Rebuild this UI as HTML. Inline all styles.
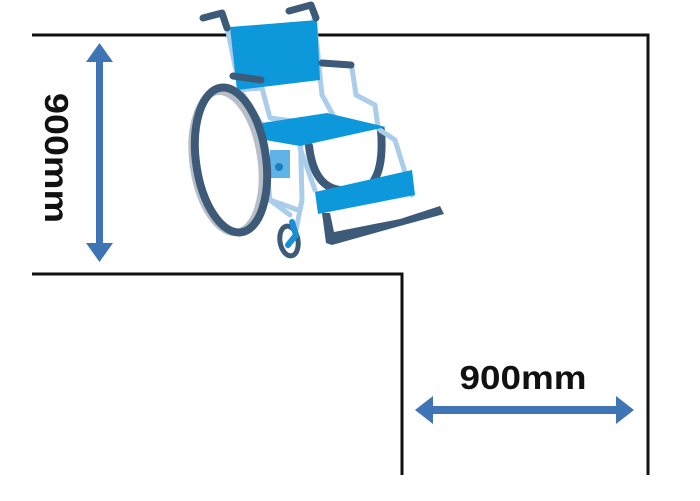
<!DOCTYPE html>
<html><head><meta charset="utf-8"><style>
html,body{margin:0;padding:0;background:#fff;}
svg{display:block;}
</style></head><body>
<svg width="700" height="501" viewBox="0 0 700 501" xmlns="http://www.w3.org/2000/svg">
<g fill="none" stroke="#111" stroke-width="3">
<polyline points="32,35 648,35 648,475"/>
<polyline points="32,274 402,274 402,475"/>
</g>
<g fill="#3f74b5">
<rect x="96" y="58" width="7" height="190"/>
<polygon points="99.5,43 113,62 86,62"/>
<polygon points="99.5,262 113,243 86,243"/>
<rect x="428" y="406" width="192" height="8"/>
<polygon points="415,410 433,396 433,424"/>
<polygon points="634,410 616,396 616,424"/>
</g>
<text x="0" y="0" transform="translate(45,158) rotate(90)" text-anchor="middle" font-family="Liberation Sans, sans-serif" font-weight="bold" font-size="33" textLength="130" lengthAdjust="spacingAndGlyphs" fill="#111">900mm</text>
<text x="523" y="389" text-anchor="middle" font-family="Liberation Sans, sans-serif" font-weight="bold" font-size="33" textLength="127" lengthAdjust="spacingAndGlyphs" fill="#111">900mm</text>
<g stroke-linecap="round" stroke-linejoin="round">
<path d="M309,146 C312,172 322,188 340,190" stroke="#3d5a78" stroke-width="8" fill="none"/>
<path d="M381,130 C383,155 380,172 373,182" stroke="#3d5a78" stroke-width="8" fill="none"/>
<g stroke="#a9cdea" stroke-width="5" fill="none">
<path d="M227,27 L240,90 L262,125 L270,200 L290,215"/>
<path d="M314,18 L322,95 L333,115"/>
<path d="M352,68 L356,95 L375,105 L378,128"/>
<path d="M235,90 L262,88 L270,118 L300,122 L302,200 L296,230"/>
<path d="M380,130 L395,140 L412,195"/>
<path d="M300,148 L315,190"/>
<path d="M270,200 L298,210"/>
</g>
<polygon points="230,27 317,20 320,80 237,90" fill="#0e98dc"/>
<path d="M203,18 L222,13 L227,28" stroke="#3d5a78" stroke-width="7" fill="none"/>
<path d="M289,11 L311,5 L316,18" stroke="#3d5a78" stroke-width="7" fill="none"/>
<path d="M233,76 L261,80" stroke="#3d5a78" stroke-width="7"/>
<path d="M322,63 L351,65" stroke="#3d5a78" stroke-width="7"/>
<polygon points="262,123 327,113 386,127 300,146 265,140" fill="#0e98dc"/>
<rect x="270" y="150" width="20" height="28" fill="#5fb3e6" stroke="none"/>
<circle cx="279" cy="167" r="4" fill="#1a7fc0"/>
<ellipse cx="227" cy="162" rx="34" ry="71" transform="rotate(-8 227 162)" fill="none" stroke="#b7bec7" stroke-width="7"/>
<ellipse cx="231" cy="160" rx="35" ry="73" transform="rotate(-8 231 160)" fill="none" stroke="#3d5a78" stroke-width="8"/>
<polygon points="315,192 412,170 415,195 318,214" fill="#0e98dc"/>
<polygon points="322,213 330,213 334,232 400,219 440,206 444,214 400,226 332,245 326,243" fill="#3d5a78"/>
<ellipse cx="289" cy="241" rx="9" ry="15" transform="rotate(-10 289 241)" fill="none" stroke="#3d5a78" stroke-width="5"/>
<path d="M292,222 L296,235 L288,245" stroke="#1a8fd6" stroke-width="6" fill="none"/>
</g>
</svg>
</body></html>
